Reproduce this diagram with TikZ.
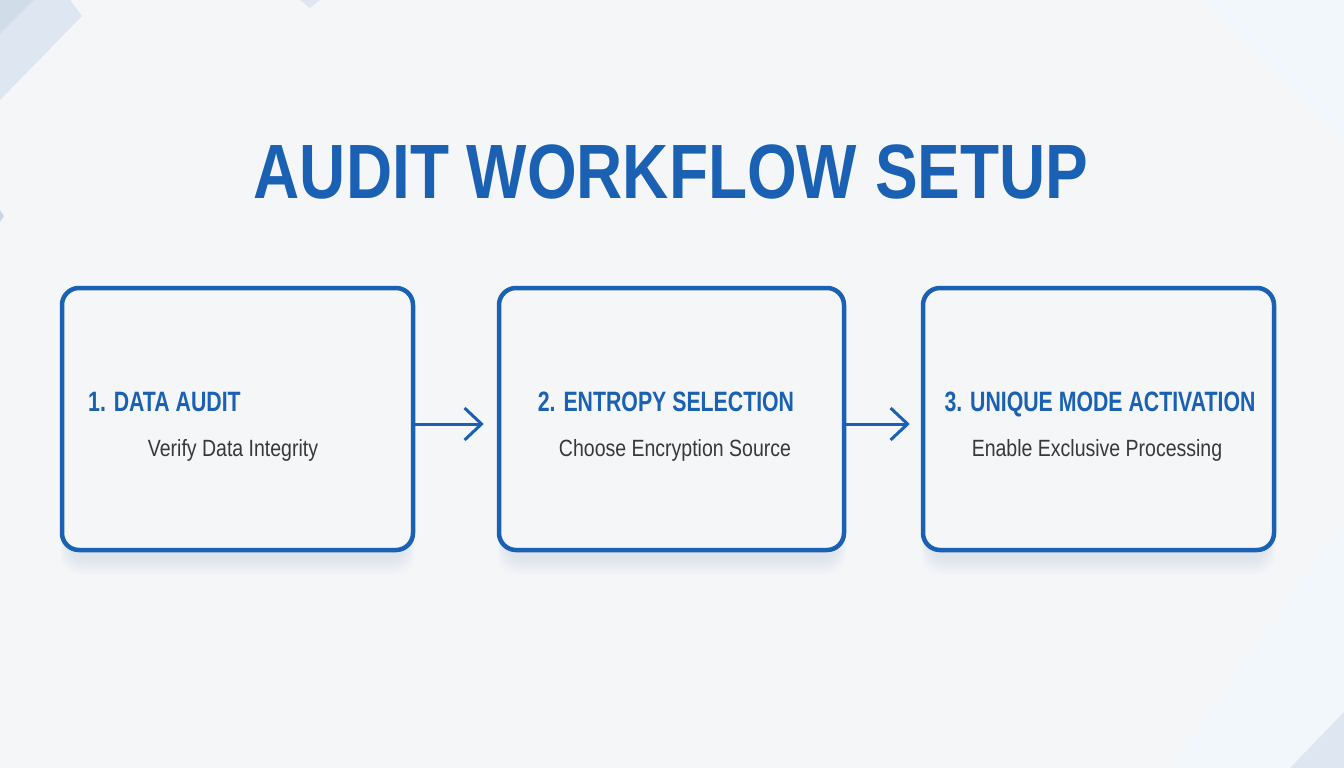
\documentclass[tikz,border=0pt]{standalone}
\usepackage{fontspec}
\setmainfont{Liberation Sans}
\newfontfamily\titlefont[FakeStretch=0.83]{Liberation Sans}
\newfontfamily\headfont[FakeStretch=0.76]{Liberation Sans}
\newfontfamily\subfont[FakeStretch=0.83]{Liberation Sans}
\usetikzlibrary{arrows.meta}
\definecolor{bgc}{HTML}{F5F6F8}
\definecolor{blu}{HTML}{1A60B3}
\definecolor{txt}{HTML}{383838}
\definecolor{deco}{HTML}{DEE7F1}
\definecolor{deco2}{HTML}{CBD8E4}
\definecolor{shad}{HTML}{8FA6C4}
\tikzset{
  box/.style={draw=blu, line width=4.5pt, rounded corners=17pt, fill=bgc, inner sep=0pt},
  head/.style={text=blu, font=\headfont\bfseries\fontsize{28}{32}\selectfont, inner sep=0pt},
  sub/.style={text=txt, font=\subfont\fontsize{23.5}{28}\selectfont, inner sep=0pt},
  arr/.style={draw=blu, line width=3pt, -{Straight Barb[length=17pt, width=32pt, line width=3pt]}},
}
\begin{document}
\begin{tikzpicture}[x=1pt,y=-1pt]
\useasboundingbox (0,0) rectangle (1344,768);
\fill[bgc] (0,0) rectangle (1344,768);
% decorations
\fill[deco] (0,0) -- (70,0) -- (82,16) -- (0,100) -- cycle;
\fill[deco2, opacity=0.7] (0,0) -- (34,0) -- (0,34) -- cycle;
\fill[deco] (300,0) -- (320,0) -- (310,8) -- cycle;
\fill[deco2] (0,210) -- (4,216) -- (0,222) -- cycle;
\fill[blue!20!cyan!8!white, opacity=0.35] (1200,0) -- (1344,0) -- (1344,145) -- cycle;
\fill[blue!20!cyan!8!white, opacity=0.35] (1344,520) -- (1344,768) -- (1170,768) -- cycle;
\fill[deco] (1290,768) -- (1344,712) -- (1344,768) -- cycle;
% shadows
\foreach \cx/\w in {237.5/351, 671.5/345, 1098.5/351}{
  \foreach \s in {0,3,...,15}{
    \fill[shad, opacity=0.035, rounded corners=20pt]
      (\cx-\w/2-\s/2+6, 300+\s/3) rectangle (\cx+\w/2+\s/2-6, 560+\s);
  }
}
% title
\node[text=blu, font=\titlefont\bfseries\fontsize{77}{80}\selectfont, anchor=base, inner sep=0pt] (title) at (671,198) {AUDIT WORKFLOW SETUP};
% boxes
\node[box, minimum width=351pt, minimum height=262pt] (b1) at (237.5,419) {};
\node[box, minimum width=345pt, minimum height=262pt] (b2) at (671.5,419) {};
\node[box, minimum width=351pt, minimum height=262pt] (b3) at (1098.5,419) {};
% texts
\node[head, anchor=base west] (h1) at (88,411) {1. DATA AUDIT};
\node[sub, anchor=base] (s1) at (233,456) {Verify Data Integrity};
\node[head, anchor=base] (h2) at (666,411) {2. ENTROPY SELECTION};
\node[sub, anchor=base] (s2) at (675,456) {Choose Encryption Source};
\node[head, anchor=base] (h3) at (1100,411) {3. UNIQUE MODE ACTIVATION};
\node[sub, anchor=base] (s3) at (1097,456) {Enable Exclusive Processing};
% arrows
\draw[arr, shorten >=13pt] (b1.east |- 0,424) -- (b2.west |- 0,424);
\draw[arr, shorten >=11pt] (b2.east |- 0,424) -- (b3.west |- 0,424);
\end{tikzpicture}
\end{document}
